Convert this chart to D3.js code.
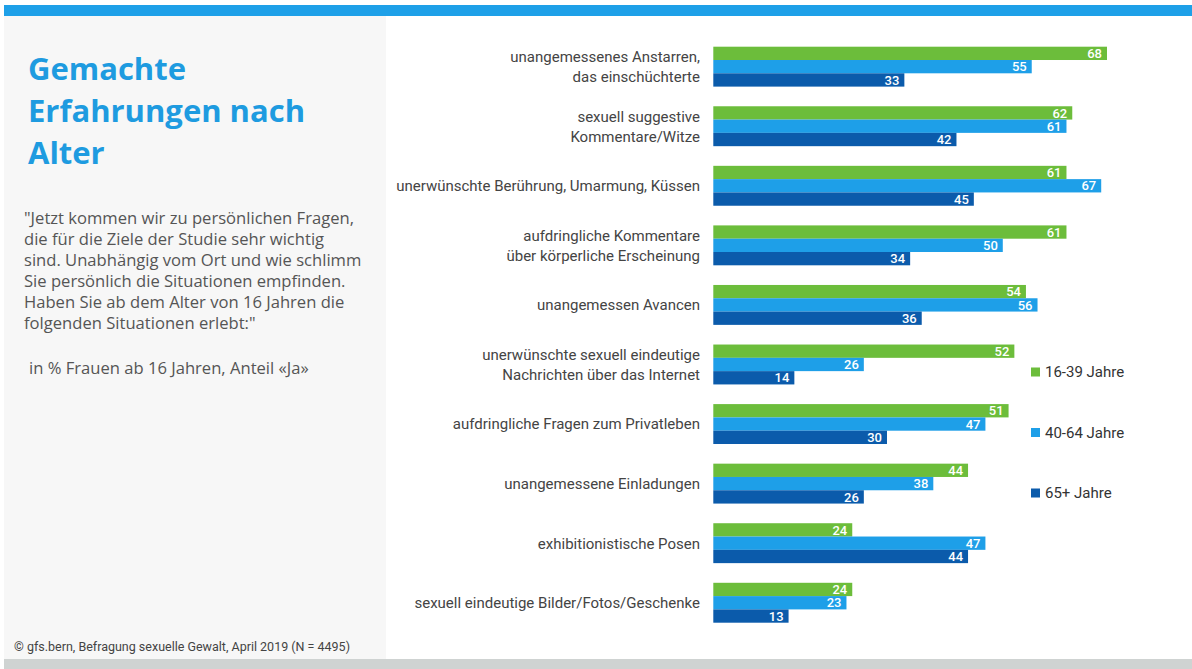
<!DOCTYPE html>
<html>
<head>
<meta charset="utf-8">
<script src="https://cdn.jsdelivr.net/npm/d3@7"></script>
<style>
  body { margin: 0; background: #fff; }
  svg { display: block; }
  .cond { font-family: Roboto, "Liberation Sans", sans-serif; }
</style>
</head>
<body>
<svg width="1192" height="669"></svg>
<script>
// categories (top to bottom), each label split into lines
var categories = [
    ["unangemessenes Anstarren,", "das einschüchterte"],
    ["sexuell suggestive", "Kommentare/Witze"],
    ["unerwünschte Berührung, Umarmung, Küssen"],
    ["aufdringliche Kommentare", "über körperliche Erscheinung"],
    ["unangemessen Avancen"],
    ["unerwünschte sexuell eindeutige", "Nachrichten über das Internet"],
    ["aufdringliche Fragen zum Privatleben"],
    ["unangemessene Einladungen"],
    ["exhibitionistische Posen"],
    ["sexuell eindeutige Bilder/Fotos/Geschenke"]
];
var series = ["16-39 Jahre", "40-64 Jahre", "65+ Jahre"];
var age16to39 = [68, 62, 61, 61, 54, 52, 51, 44, 24, 24];
var age40to64 = [55, 61, 67, 50, 56, 26, 47, 38, 47, 23];
var age65plus = [33, 42, 45, 34, 36, 14, 30, 26, 44, 13];
var colors = ["#6cbd3b", "#1e9fe8", "#0b5bab"];

var titleLines = ["Gemachte", "Erfahrungen nach", "Alter"];
var questionLines = [
    "\"Jetzt kommen wir zu persönlichen Fragen,",
    "die für die Ziele der Studie sehr wichtig",
    "sind. Unabhängig vom Ort und wie schlimm",
    "Sie persönlich die Situationen empfinden.",
    "Haben Sie ab dem Alter von 16 Jahren die",
    "folgenden Situationen erlebt:\""
];
var unitNote = "in % Frauen ab 16 Jahren, Anteil «Ja»";
var sourceNote = "© gfs.bern, Befragung sexuelle Gewalt, April 2019 (N = 4495)";

var svg = d3.select("svg");

// frame: top stripe, left panel, bottom stripe
svg.append("rect").attr("x", 4).attr("y", 5).attr("width", 1188).attr("height", 11).attr("fill", "#1ea0e8");
svg.append("rect").attr("x", 4).attr("y", 16).attr("width", 382).attr("height", 643).attr("fill", "#f7f7f7");
svg.append("rect").attr("x", 4).attr("y", 659).attr("width", 1188).attr("height", 10).attr("fill", "#cfd3d2");

// left panel texts
svg.append("g").selectAll("text")
    .data(titleLines)
    .enter().append("text")
    .attr("x", 28)
    .attr("y", function(d, i) { return 80 + i * 42; })
    .attr("font-family", "'Open Sans', sans-serif")
    .attr("font-weight", "bold")
    .attr("font-size", "31px")
    .attr("fill", "#1e9be0")
    .text(function(d) { return d; });

svg.append("g").selectAll("text")
    .data(questionLines)
    .enter().append("text")
    .attr("x", 24)
    .attr("y", function(d, i) { return 224 + i * 21; })
    .attr("font-family", "'Open Sans', sans-serif")
    .attr("font-size", "16.6px")
    .attr("fill", "#555")
    .text(function(d) { return d; });

svg.append("text")
    .attr("x", 29).attr("y", 374)
    .attr("font-family", "'Open Sans', sans-serif")
    .attr("font-size", "16.6px")
    .attr("fill", "#555")
    .text(unitNote);

svg.append("text")
    .attr("class", "cond")
    .attr("x", 14).attr("y", 651)
    .attr("font-size", "12.5px")
    .attr("fill", "#444")
    .text(sourceNote);

// scales
var x = d3.scaleLinear().domain([0, 68]).range([713.3, 1107]);
var y = d3.scaleBand()
    .domain(d3.range(categories.length))
    .range([46.7, 622.7])
    .paddingInner(0.33)
    .paddingOuter(0);
var ySub = d3.scaleBand().domain(series).range([0, y.bandwidth()]);

var table = categories.map(function(c, i) {
    return { i: i, label: c, values: [age16to39[i], age40to64[i], age65plus[i]] };
});

var group = svg.append("g").selectAll("g")
    .data(table)
    .enter().append("g")
    .attr("transform", function(d) { return "translate(0," + y(d.i) + ")"; });

var bar = group.selectAll("g")
    .data(function(d) { return d.values.map(function(v, k) { return { key: series[k], k: k, v: v }; }); })
    .enter().append("g");

bar.append("rect")
    .attr("x", x(0))
    .attr("y", function(d) { return ySub(d.key); })
    .attr("width", function(d) { return x(d.v) - x(0); })
    .attr("height", ySub.bandwidth())
    .attr("fill", function(d) { return colors[d.k]; });

// value labels inside the bar ends
bar.append("text")
    .attr("class", "cond")
    .attr("x", function(d) { return x(d.v) - 5; })
    .attr("y", function(d) { return ySub(d.key) + ySub.bandwidth() / 2; })
    .attr("dy", "0.36em")
    .attr("text-anchor", "end")
    .attr("font-size", "13px")
    .attr("font-weight", 500)
    .attr("fill", "#fff")
    .text(function(d) { return d.v; });

// category labels
group.append("text")
    .attr("class", "cond")
    .attr("text-anchor", "end")
    .attr("font-size", "15px")
    .attr("fill", "#444")
    .each(function(d) {
        var t = d3.select(this);
        var n = d.label.length;
        d.label.forEach(function(line, j) {
            t.append("tspan")
                .attr("x", 700)
                .attr("y", y.bandwidth() / 2 + (j - (n - 1) / 2) * 20)
                .attr("dy", "0.36em")
                .text(line);
        });
    });

// legend
var legend = svg.append("g").selectAll("g")
    .data(series)
    .enter().append("g")
    .attr("transform", function(d, i) { return "translate(1031," + (372 + i * 60.5) + ")"; });

legend.append("rect")
    .attr("x", 0).attr("y", -4.5)
    .attr("width", 9).attr("height", 9)
    .attr("fill", function(d, i) { return colors[i]; });

legend.append("text")
    .attr("class", "cond")
    .attr("x", 14)
    .attr("dy", "0.36em")
    .attr("font-size", "15px")
    .attr("fill", "#333")
    .text(function(d) { return d; });
</script>
</body>
</html>
